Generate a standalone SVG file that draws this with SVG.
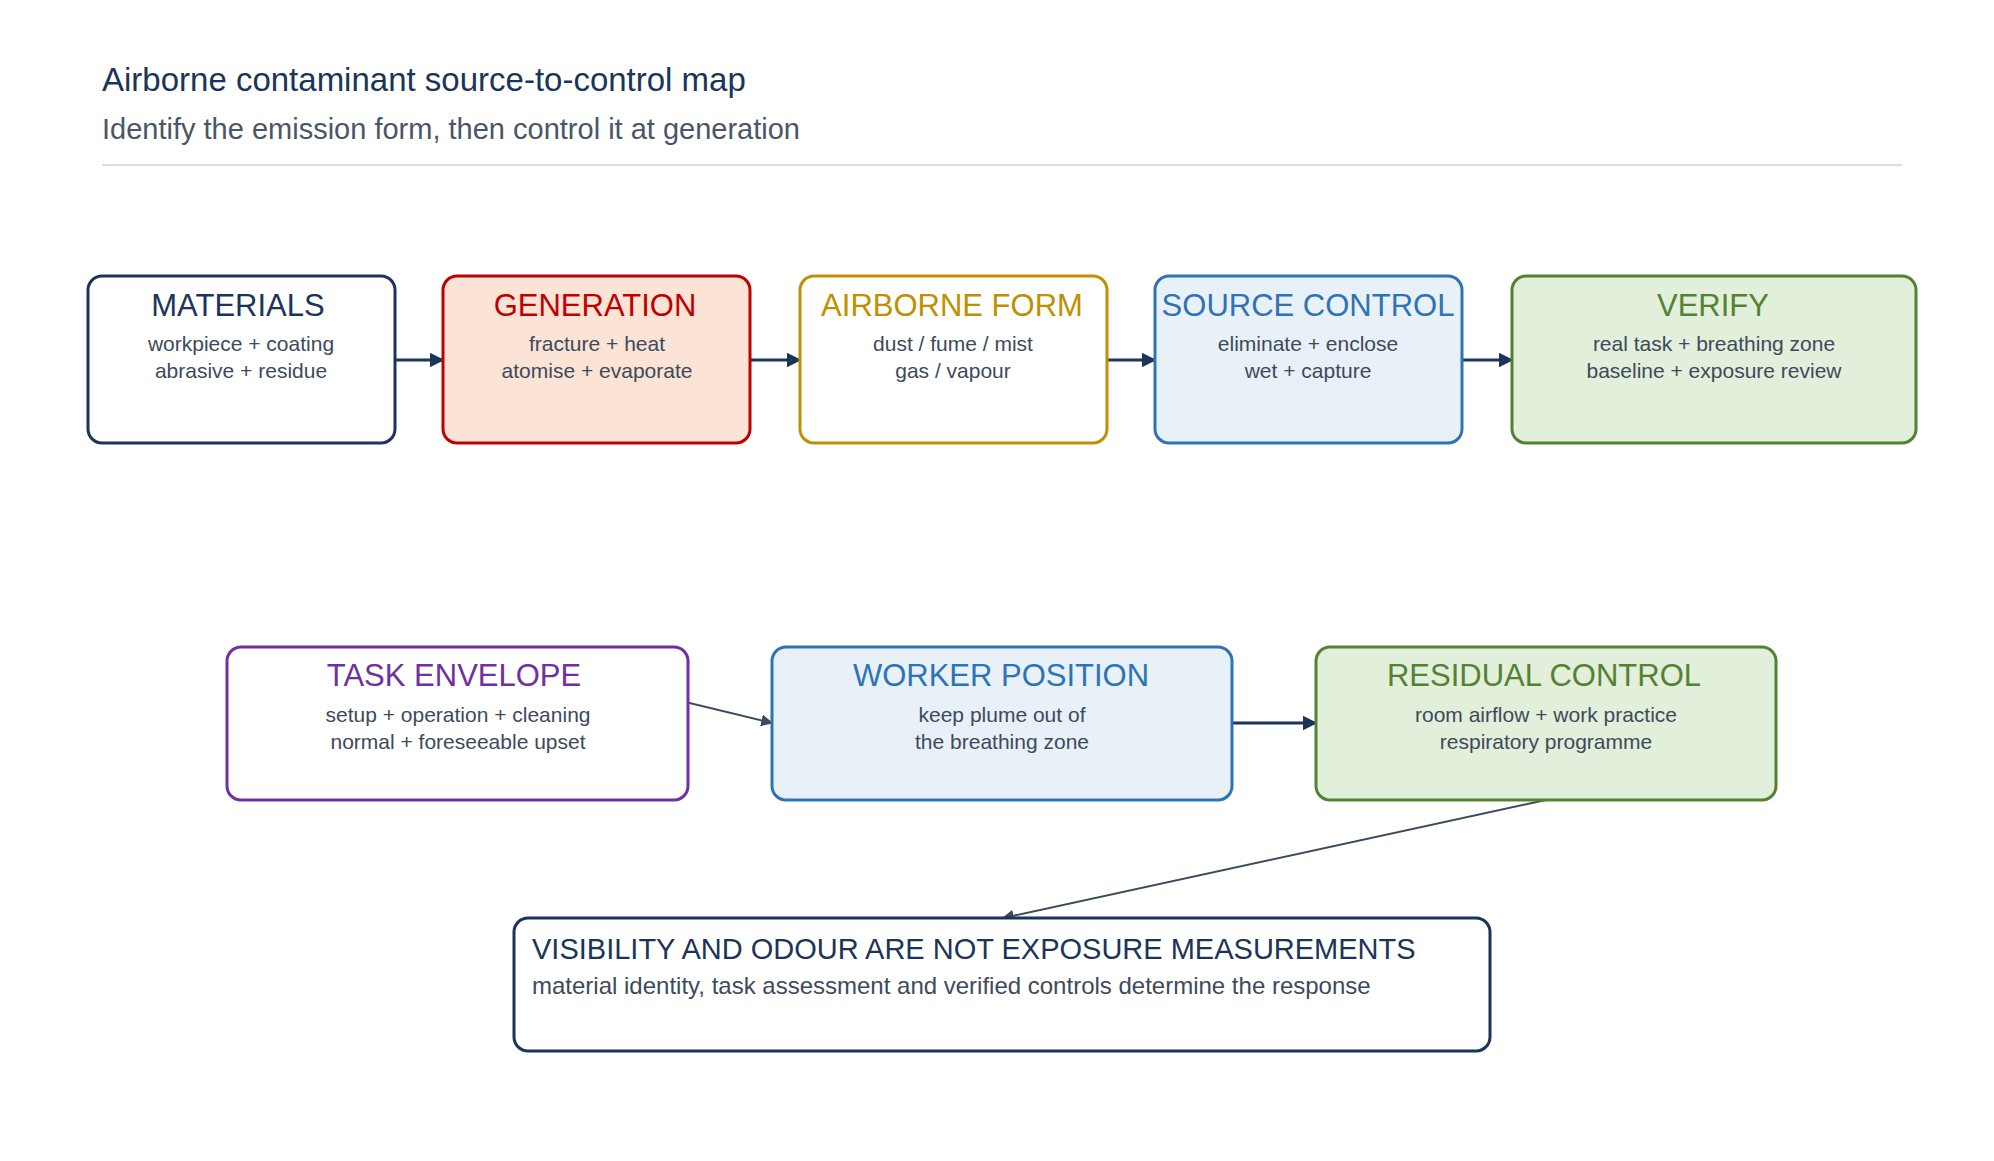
<svg xmlns="http://www.w3.org/2000/svg" width="1994" height="1161" viewBox="0 0 1994 1161">
<style>
text{font-family:"Liberation Sans",Arial,sans-serif}
.box{stroke-width:3}
.t{font-size:31px;text-anchor:middle}
.b{font-size:21px;fill:#3d4a5c;text-anchor:middle}
.c{stroke:#1b3558;stroke-width:3;fill:none}
.c2{stroke:#3d4a5c;stroke-width:2;fill:none}
</style>
<defs>
<marker id="a" viewBox="0 0 10 10" refX="9" refY="5" markerWidth="5" markerHeight="5" orient="auto"><path d="M0,0L10,5L0,10z" fill="#1b3558"/></marker>
<marker id="a2" viewBox="0 0 10 10" refX="9" refY="5" markerWidth="6" markerHeight="6" orient="auto"><path d="M0,0L10,5L0,10z" fill="#3d4a5c"/></marker>
</defs>
<rect width="1994" height="1161" fill="#fff"/>
<text x="102" y="91" font-size="33" fill="#1b3558">Airborne contaminant source-to-control map</text>
<text x="102" y="139" font-size="29" fill="#4a5668">Identify the emission form, then control it at generation</text>
<line x1="102" y1="165" x2="1902" y2="165" stroke="#d6dcf2" stroke-width="2"/>
<g id="connectors">
<line class="c" x1="395" y1="360" x2="443" y2="360" marker-end="url(#a)"/>
<line class="c" x1="750" y1="360" x2="800" y2="360" marker-end="url(#a)"/>
<line class="c" x1="1107" y1="360" x2="1155" y2="360" marker-end="url(#a)"/>
<line class="c" x1="1462" y1="360" x2="1512" y2="360" marker-end="url(#a)"/>
<line class="c2" x1="458" y1="647" x2="772" y2="723" marker-end="url(#a2)"/>
<line class="c" x1="1232" y1="723" x2="1316" y2="723" marker-end="url(#a)"/>
<line class="c2" x1="1546" y1="800" x2="1003" y2="918" marker-end="url(#a2)"/>
</g>
<g id="materials"><rect class="box" x="88" y="276" width="307" height="167" rx="14" fill="#fff" stroke="#1b3558"/><text class="t" x="238" y="316" fill="#1b3558">MATERIALS</text><text class="b" x="241" y="351">workpiece + coating</text><text class="b" x="241" y="378">abrasive + residue</text></g>
<g id="generation"><rect class="box" x="443" y="276" width="307" height="167" rx="14" fill="#fbe3d6" stroke="#c00000"/><text class="t" x="595" y="316" fill="#c00000">GENERATION</text><text class="b" x="597" y="351">fracture + heat</text><text class="b" x="597" y="378">atomise + evaporate</text></g>
<g id="airborne"><rect class="box" x="800" y="276" width="307" height="167" rx="14" fill="#fff" stroke="#bf9000"/><text class="t" x="952" y="316" fill="#bf9000">AIRBORNE FORM</text><text class="b" x="953" y="351">dust / fume / mist</text><text class="b" x="953" y="378">gas / vapour</text></g>
<g id="source"><rect class="box" x="1155" y="276" width="307" height="167" rx="14" fill="#e8f0f8" stroke="#2e74b5"/><text class="t" x="1308" y="316" fill="#2e74b5" font-size="29">SOURCE CONTROL</text><text class="b" x="1308" y="351">eliminate + enclose</text><text class="b" x="1308" y="378">wet + capture</text></g>
<g id="verify"><rect class="box" x="1512" y="276" width="404" height="167" rx="14" fill="#e2efda" stroke="#548235"/><text class="t" x="1713" y="316" fill="#548235">VERIFY</text><text class="b" x="1714" y="351">real task + breathing zone</text><text class="b" x="1714" y="378">baseline + exposure review</text></g>
<g id="task"><rect class="box" x="227" y="647" width="461" height="153" rx="14" fill="#fff" stroke="#7030a0"/><text class="t" x="454" y="686" fill="#7030a0">TASK ENVELOPE</text><text class="b" x="458" y="722">setup + operation + cleaning</text><text class="b" x="458" y="749">normal + foreseeable upset</text></g>
<g id="worker"><rect class="box" x="772" y="647" width="460" height="153" rx="14" fill="#e8f0f8" stroke="#2e74b5"/><text class="t" x="1001" y="686" fill="#2e74b5">WORKER POSITION</text><text class="b" x="1002" y="722">keep plume out of</text><text class="b" x="1002" y="749">the breathing zone</text></g>
<g id="residual"><rect class="box" x="1316" y="647" width="460" height="153" rx="14" fill="#e2efda" stroke="#548235"/><text class="t" x="1544" y="686" fill="#548235">RESIDUAL CONTROL</text><text class="b" x="1546" y="722">room airflow + work practice</text><text class="b" x="1546" y="749">respiratory programme</text></g>
<g id="visibility"><rect class="box" x="514" y="918" width="976" height="133" rx="14" fill="#fff" stroke="#1b3558"/><text x="532" y="959" font-size="29" fill="#1b3558">VISIBILITY AND ODOUR ARE NOT EXPOSURE MEASUREMENTS</text><text x="532" y="994" font-size="24" fill="#3d4a5c">material identity, task assessment and verified controls determine the response</text></g>
</svg>
